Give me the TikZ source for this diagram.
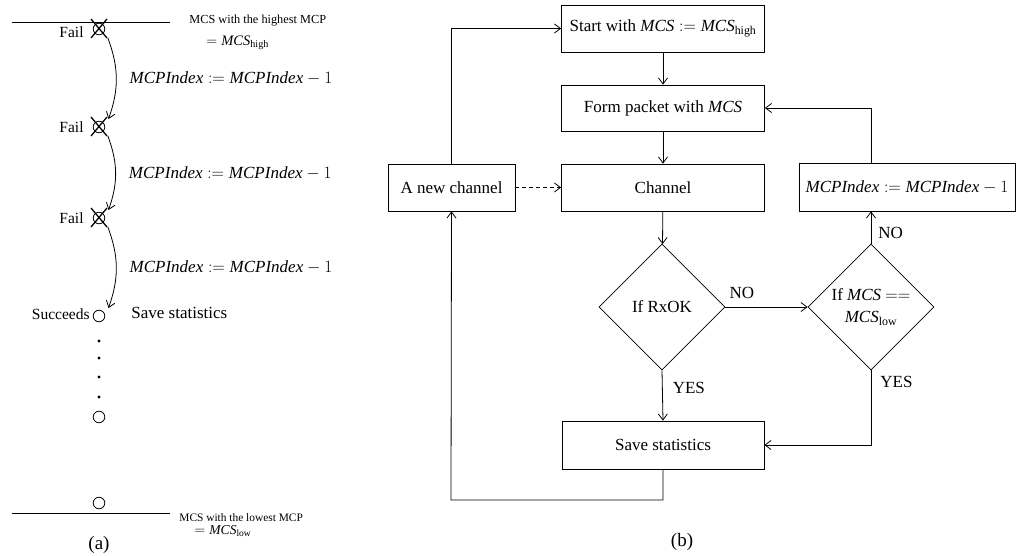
\documentclass[tikz,border=0pt]{standalone}
\usepackage{amsmath}
\usepackage{fontspec}
\setmainfont{Liberation Serif}
\usetikzlibrary{shapes.geometric,arrows.meta}
\newcommand\MCS{\textit{MCS}}
\newcommand\MCPI{\textit{MCPIndex}}
\newcommand\myfs{\fontsize{17}{22}\selectfont}
\newcommand\failfs{\fontsize{15.5}{18}\selectfont}
\begin{document}
\begin{tikzpicture}[x=1pt,y=-1pt,line width=0.8pt,
  >={Straight Barb[length=6pt,width=9pt]},
  box/.style={draw,rectangle,minimum width=203pt,minimum height=47pt,inner sep=2pt,font=\myfs},
  dia/.style={draw,diamond,aspect=1,minimum width=126pt,minimum height=126pt,inner sep=0pt,font=\myfs,align=center},
  lbl/.style={font=\myfs,inner sep=2pt},
  mk/.style={circle,minimum size=24pt,inner sep=0pt},
  ring/.style={line width=0.8pt},
  cross/.style={line width=1.3pt},
  failtxt/.style={font=\failfs,inner sep=0pt,anchor=east},
  smalltxt/.style={font=\fontsize{12.3}{14}\selectfont,inner sep=0pt,anchor=west},
  tinytxt/.style={font=\fontsize{11.4}{13}\selectfont,inner sep=0pt,anchor=west},
  eqtxt/.style={font=\fontsize{14.5}{16}\selectfont,inner sep=0pt,anchor=west},
  eqsmall/.style={font=\fontsize{13.6}{15}\selectfont,inner sep=0pt,anchor=west},
  captxt/.style={font=\fontsize{19}{22}\selectfont,inner sep=0pt}]
\useasboundingbox (0,0) rectangle (1017,556);

% ---------- panel (a) ----------
\coordinate (tl1) at (12,22);
\coordinate (tl2) at (170,22);
\draw (tl1) -- (tl2);
\coordinate (bl1) at (12,513);
\coordinate (bl2) at (170,513);
\draw (bl1) -- (bl2);

\node[mk] (m1) at (99,29) {};
\node[mk] (m2) at (99,127) {};
\node[mk] (m3) at (99,218) {};
\node[mk] (m4) at (99,316) {};
\node[mk] (m5) at (99,417) {};
\node[mk] (m6) at (99,503) {};

\foreach \m in {m1,m2,m3,m4,m5,m6}{\draw[ring] (\m.center) circle[radius=5.8pt];}
\foreach \m in {m1,m2,m3}{
  \draw[cross] (\m.center) ++(-8,-10) -- ++(16,19);
  \draw[cross] (\m.center) ++(8,-10) -- ++(-16,19);
}

\node[failtxt] (f1) at (84,32) {Fail};
\node[failtxt] (f2) at (84,127) {Fail};
\node[failtxt] (f3) at (84,218) {Fail};
\node[failtxt] (f4) at (90,314) {Succeeds};
\node[lbl,anchor=west,inner sep=0pt] (ss) at (131,313) {Save statistics};

\draw[->] (m1.-45) to[bend left=20] node[lbl,midway,right=11pt] (l1) {$\MCPI := \MCPI - 1$} (m2.40);
\draw[->] (m2.-45) to[bend left=20] node[lbl,midway,right=11pt] (l2) {$\MCPI := \MCPI - 1$} (m3.40);
\draw[->] (m3.-45) to[bend left=20] node[lbl,midway,right=11pt] (l3) {$\MCPI := \MCPI - 1$} (m4.40);

\foreach \y in {341,358,377,397}{\fill (99,\y) circle[radius=1.6pt];}

\node[smalltxt] (hi1) at (189,21) {MCS with the highest MCP};
\node[eqtxt] (hi2) at (206,43) {$=\MCS_{\text{high}}$};
\node[tinytxt] (lo1) at (179,518) {MCS with the lowest MCP};
\node[eqsmall] (lo2) at (194,531) {$=\MCS_{\text{low}}$};

\node[captxt] (capa) at (99,545) {(a)};

% ---------- panel (b) ----------
\node[box] (start) at (663,28.5) {Start with $\MCS := \MCS_{\text{high}}$};
\node[box,minimum height=46pt] (form) at (663,108) {Form packet with \MCS};
\node[box] (chan) at (663,187.5) {Channel};
\node[box,minimum width=127pt] (newch) at (451.5,187.5) {A new channel};
\node[draw,rectangle,minimum width=216pt,minimum height=48pt,inner sep=2pt,font=\myfs] (dec) at (907,187) {$\MCPI := \MCPI - 1$};
\node[dia] (d1) at (662,307) {If RxOK};
\node[dia] (d2) at (871,307) {If \MCS{} $==$\\ $\MCS_{\text{low}}$};
\node[box,minimum width=202pt,minimum height=48pt] (save) at (663,445) {Save statistics};
\coordinate (bc) at (451,500);

\draw[->] (start) -- (form);
\draw[->] (form) -- (chan);
\draw[->] (chan) -- (d1);
\draw[->,dash pattern=on 4pt off 3pt] (newch) -- (chan);
\draw[->] (d1.east) -- node[lbl,pos=0.2,above=6pt] (no1) {NO} (d2.west);
\draw[->] (d1.south) -- node[lbl,pos=0.35,right=8pt] (yes1) {YES} (save.north);
\draw[->] (d2.north) -- node[lbl,pos=0.33,right=5pt] (no2) {NO} (d2.north |- dec.south);
\draw[->] (d2.south) |- node[lbl,pos=0.08,right=7pt] (yes2) {YES} (save.east);
\draw[->] (d2.north |- dec.north) |- (form.east);
\draw[->] (save.south) |- (bc) -- (newch.south);
\draw[->] (newch.north) |- (start.west);

\node[captxt] (capb) at (682,542) {(b)};
\end{tikzpicture}
\end{document}
